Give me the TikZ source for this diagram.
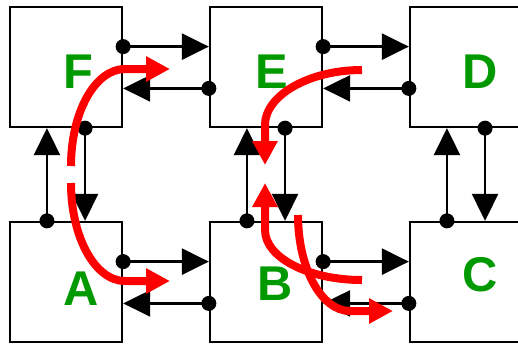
\documentclass[tikz,border=0pt]{standalone}
\usepackage{fontspec}
\setmainfont{Liberation Sans}
\usetikzlibrary{arrows.meta,calc}
\definecolor{lblgreen}{RGB}{0,153,0}
\definecolor{flowred}{RGB}{255,0,0}
\begin{document}
\begin{tikzpicture}[x=1bp,y=-1bp,
  box/.style={draw=black,line width=2.3bp,minimum width=112bp,minimum height=120bp,inner sep=0pt},
  lbl/.style={text=lblgreen,font=\fontsize{49}{49}\selectfont\bfseries,inner sep=0pt},
  link/.style={line width=2.5bp,-{Triangle[length=27bp,width=26bp]}},
  flow/.style={draw=flowred,line width=8bp,-{Triangle[length=24bp,width=24bp]}},
  dotr/.style={fill=black}
]
\useasboundingbox (0,0) rectangle (518,347);
% boxes
\node[box] (F) at (66,67) {};
\node[box] (E) at (266,67) {};
\node[box] (D) at (466,67) {};
\node[box] (A) at (66,282) {};
\node[box] (B) at (266,282) {};
\node[box] (C) at (466,282) {};
% horizontal links
\foreach \l/\r in {F/E,E/D,A/B,B/C}{
  \coordinate (\l-o1) at ($(\l.north east)!1/3!(\l.south east)$);
  \coordinate (\r-i1) at ($(\r.north west)!1/3!(\r.south west)$);
  \coordinate (\r-o2) at ($(\r.north west)!0.675!(\r.south west)$);
  \coordinate (\l-i2) at ($(\l.north east)!0.675!(\l.south east)$);
  \draw[link] (\l-o1) -- (\r-i1);
  \draw[link] (\r-o2) -- (\l-i2);
  \fill[dotr] (\l-o1) circle (7.5bp);
  \fill[dotr] (\r-o2) circle (7.5bp);
}
% vertical links
\foreach \b/\t in {A/F,B/E,C/D}{
  \coordinate (\b-u) at ($(\b.north west)!1/3!(\b.north east)$);
  \coordinate (\t-u) at ($(\t.south west)!1/3!(\t.south east)$);
  \coordinate (\t-d) at ($(\t.south west)!2/3!(\t.south east)$);
  \coordinate (\b-d) at ($(\b.north west)!2/3!(\b.north east)$);
  \draw[link] (\b-u) -- (\t-u);
  \draw[link] (\t-d) -- (\b-d);
  \fill[dotr] (\b-u) circle (7.5bp);
  \fill[dotr] (\t-d) circle (7.5bp);
}
% labels
\node[lbl] (lF) at (78,72) {F};
\node[lbl] (lE) at (272,72) {E};
\node[lbl] (lD) at (480,72) {D};
\node[lbl] (lA) at (81,289) {A};
\node[lbl] (lB) at (275,284) {B};
\node[lbl] (lC) at (480,275) {C};
% red flows
\coordinate (r1s) at (71,166); \coordinate (r1e) at (170,69);
\coordinate (r2s) at (71,183); \coordinate (r2e) at (170,281);
\coordinate (r3s) at (362,70); \coordinate (r3e) at (265,165);
\coordinate (r4s) at (362,280); \coordinate (r4e) at (265,183);
\coordinate (r5s) at (298,215); \coordinate (r5e) at (393,311);
\draw[flow] (r1s) .. controls (71,112.5) and (95,69) .. (125,69) -- (r1e);
\draw[flow] (r2s) .. controls (71,237) and (95,281) .. (125,281) -- (r2e);
\draw[flow] (r3s) .. controls (308.5,70) and (265,95.6) .. (265,125) -- (r3e);
\draw[flow] (r4s) .. controls (308.5,280) and (265,257.6) .. (265,230) -- (r4e);
\draw[flow] (r5s) .. controls (298,268) and (321.3,311) .. (350,311) -- (r5e);
\end{tikzpicture}
\end{document}
